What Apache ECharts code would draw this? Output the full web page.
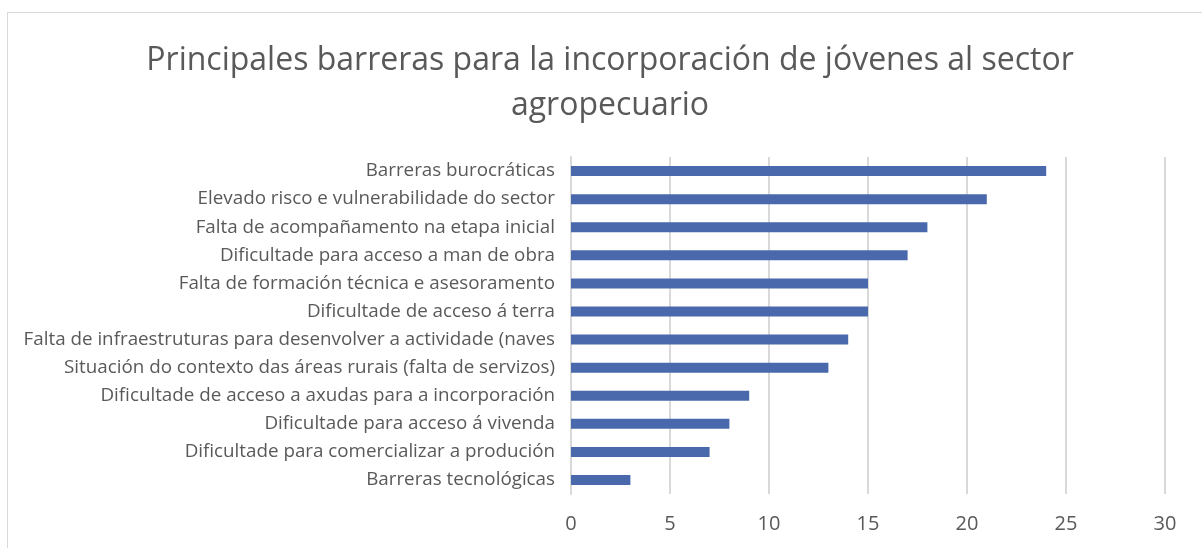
<!DOCTYPE html>
<html>
<head>
<meta charset="utf-8">
<script src="https://cdn.jsdelivr.net/npm/echarts@6/dist/echarts.min.js"></script>
<style>
  html, body { margin: 0; padding: 0; background: #fff; }
  #frame { position: absolute; left: 7px; top: 12px; width: 1300px; height: 700px; border: 1px solid #d9d9d9; box-sizing: border-box; }
  #chart { position: absolute; left: 0; top: 0; width: 1202px; height: 548px; }
</style>
</head>
<body>
<div id="frame"></div>
<div id="chart"></div>
<script>
// categories top -> bottom
const categories = [
  'Barreras burocráticas',
  'Elevado risco e vulnerabilidade do sector',
  'Falta de acompañamento na etapa inicial',
  'Dificultade para acceso a man de obra',
  'Falta de formación técnica e asesoramento',
  'Dificultade de acceso á terra',
  'Falta de infraestruturas para desenvolver a actividade (naves',
  'Situación do contexto das áreas rurais (falta de servizos)',
  'Dificultade de acceso a axudas para a incorporación',
  'Dificultade para acceso á vivenda',
  'Dificultade para comercializar a produción',
  'Barreras tecnológicas'
];
const values = [24, 21, 18, 17, 15, 15, 14, 13, 9, 8, 7, 3];
const titleText = 'Principales barreras para la incorporación de jóvenes al sector\nagropecuario';

const chart = echarts.init(document.getElementById('chart'), null, { renderer: 'canvas' });
const font = '"Open Sans", "Noto Sans", sans-serif';
chart.setOption({
  backgroundColor: 'transparent',
  animation: false,
  title: {
    text: titleText, left: 605, top: 33, textAlign: 'center',
    textStyle: { fontFamily: font, fontSize: 32, fontWeight: 'normal', color: '#595959', lineHeight: 45 }
  },
  grid: { left: 571, right: 37, top: 157, bottom: 54, containLabel: false },
  xAxis: {
    type: 'value', min: 0, max: 30, interval: 5,
    axisLine: { show: false }, axisTick: { show: false },
    splitLine: { lineStyle: { color: '#d9d9d9', width: 2 } },
    axisLabel: { fontFamily: font, fontSize: 20, color: '#595959', margin: 20 }
  },
  yAxis: {
    type: 'category', data: categories, inverse: true,
    axisLine: { lineStyle: { color: '#d9d9d9', width: 2 } }, axisTick: { show: false },
    axisLabel: { fontFamily: font, fontSize: 18.8, color: '#595959', margin: 16 }
  },
  series: [{
    type: 'bar', data: values, barWidth: 10,
    itemStyle: { color: '#4a69ad' }
  }]
});
</script>
</body>
</html>
